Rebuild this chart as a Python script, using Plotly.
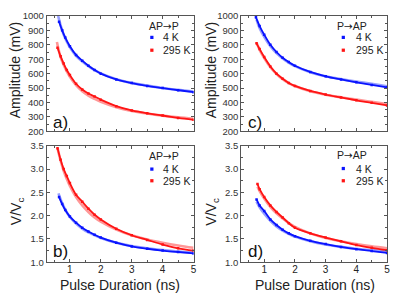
import plotly.graph_objects as go

# ---------------- data ----------------
# panel a) Amplitude, AP->P
a_blue_x = [0.65, 0.75, 0.85, 1.0, 1.2, 1.4, 1.6, 1.8, 2.0, 2.5, 3.0, 3.5, 4.0, 4.5, 5.0]
a_blue_y = [960, 900, 850, 790, 730, 690, 655, 625, 600, 560, 535, 515, 500, 485, 472]
a_blue_fit_x = [0.62, 0.7, 0.8, 0.9, 1.0, 1.2, 1.4, 1.6, 1.8, 2.0, 2.5, 3.0, 3.5, 4.0, 4.5, 5.0]
a_blue_fit_y = [1000, 935, 870, 822, 782, 724, 684, 652, 624, 602, 562, 536, 517, 501, 488, 476]
a_red_x = [0.6, 0.7, 0.8, 0.9, 1.0, 1.2, 1.4, 1.6, 1.8, 2.0, 2.5, 3.0, 3.5, 4.0, 4.5, 5.0]
a_red_y = [780, 720, 670, 625, 590, 530, 490, 462, 442, 420, 375, 345, 325, 310, 293, 280]
a_red_fit_x = [0.58, 0.7, 0.8, 0.9, 1.0, 1.2, 1.4, 1.6, 1.8, 2.0, 2.5, 3.0, 3.5, 4.0, 4.5, 5.0]
a_red_fit_y = [820, 715, 660, 615, 578, 520, 478, 448, 425, 405, 368, 342, 324, 309, 297, 288]

# panel c) Amplitude, P->AP
c_blue_x = [0.73, 0.85, 1.0, 1.2, 1.4, 1.6, 1.8, 2.0, 2.5, 3.0, 3.5, 4.0, 4.5, 5.0]
c_blue_y = [990, 930, 870, 800, 750, 710, 680, 655, 612, 582, 560, 540, 522, 505]
c_blue_fit_x = [0.75, 0.85, 1.0, 1.2, 1.4, 1.6, 1.8, 2.0, 2.5, 3.0, 3.5, 4.0, 4.5, 5.0]
c_blue_fit_y = [975, 915, 855, 790, 742, 705, 676, 652, 610, 582, 562, 545, 530, 512]
c_red_x = [0.75, 0.85, 1.0, 1.2, 1.4, 1.6, 1.8, 2.0, 2.5, 3.0, 3.5, 4.0, 4.5, 5.0]
c_red_y = [810, 770, 715, 650, 600, 565, 535, 515, 480, 455, 435, 415, 398, 380]
c_red_fit_x = [0.75, 0.85, 1.0, 1.2, 1.4, 1.6, 1.8, 2.0, 2.5, 3.0, 3.5, 4.0, 4.5, 5.0]
c_red_fit_y = [815, 765, 708, 645, 598, 562, 535, 514, 478, 454, 436, 420, 405, 390]

# panel b) V/Vc, AP->P
b_blue_x = [0.65, 0.75, 0.85, 1.0, 1.2, 1.4, 1.6, 1.8, 2.0, 2.5, 3.0, 3.5, 4.0, 4.5, 5.0]
b_blue_y = [2.40, 2.25, 2.12, 1.98, 1.85, 1.74, 1.66, 1.59, 1.53, 1.42, 1.34, 1.29, 1.25, 1.22, 1.19]
b_blue_fit_x = [0.63, 0.75, 0.85, 1.0, 1.2, 1.4, 1.6, 1.8, 2.0, 2.5, 3.0, 3.5, 4.0, 4.5, 5.0]
b_blue_fit_y = [2.48, 2.27, 2.13, 1.97, 1.83, 1.72, 1.64, 1.58, 1.52, 1.42, 1.35, 1.30, 1.26, 1.23, 1.21]
b_red_x = [0.6, 0.7, 0.8, 0.9, 1.0, 1.2, 1.4, 1.6, 1.8, 2.0, 2.5, 3.0, 3.5, 4.0, 4.5, 5.0]
b_red_y = [3.45, 3.20, 3.00, 2.85, 2.70, 2.45, 2.30, 2.15, 2.02, 1.92, 1.72, 1.58, 1.48, 1.38, 1.30, 1.25]
b_red_fit_x = [0.6, 0.7, 0.8, 0.9, 1.0, 1.2, 1.4, 1.6, 1.8, 2.0, 2.5, 3.0, 3.5, 4.0, 4.5, 5.0]
b_red_fit_y = [3.45, 3.18, 2.96, 2.79, 2.64, 2.40, 2.22, 2.08, 1.96, 1.87, 1.70, 1.58, 1.49, 1.42, 1.36, 1.31]

# panel d) V/Vc, P->AP
d_blue_x = [0.75, 0.85, 1.0, 1.2, 1.4, 1.6, 1.8, 2.0, 2.5, 3.0, 3.5, 4.0, 4.5, 5.0]
d_blue_y = [2.35, 2.22, 2.10, 1.92, 1.80, 1.70, 1.62, 1.56, 1.46, 1.39, 1.33, 1.28, 1.24, 1.20]
d_blue_fit_x = [0.75, 0.85, 1.0, 1.2, 1.4, 1.6, 1.8, 2.0, 2.5, 3.0, 3.5, 4.0, 4.5, 5.0]
d_blue_fit_y = [2.30, 2.18, 2.04, 1.89, 1.77, 1.68, 1.61, 1.55, 1.45, 1.38, 1.33, 1.29, 1.26, 1.23]
d_red_x = [0.78, 0.85, 1.0, 1.2, 1.4, 1.6, 1.8, 2.0, 2.5, 3.0, 3.5, 4.0, 4.5, 5.0]
d_red_y = [2.68, 2.57, 2.40, 2.22, 2.08, 1.96, 1.84, 1.74, 1.62, 1.53, 1.45, 1.37, 1.31, 1.26]
d_red_fit_x = [0.78, 0.85, 1.0, 1.2, 1.4, 1.6, 1.8, 2.0, 2.5, 3.0, 3.5, 4.0, 4.5, 5.0]
d_red_fit_y = [2.62, 2.53, 2.37, 2.19, 2.05, 1.94, 1.84, 1.76, 1.62, 1.52, 1.45, 1.39, 1.34, 1.30]

x_ticks = [1, 2, 3, 4, 5]
x_tick_text = ["1", "2", "3", "4", "5"]
amp_ticks = [200, 300, 400, 500, 600, 700, 800, 900, 1000]
v_ticks = [1.0, 1.5, 2.0, 2.5, 3.0, 3.5]
v_tick_text = ["1.0", "1.5", "2.0", "2.5", "3.0", "3.5"]
ARROW = "<span style='font-family:DejaVu Sans'>→</span>"
legend_titles = {"a": "AP" + ARROW + "P", "b": "AP" + ARROW + "P", "c": "P" + ARROW + "AP", "d": "P" + ARROW + "AP"}
series_names = ["4 K", "295 K"]

# ---------------- styling ----------------
OX, OY = 8, 8            # page offset of the figure inside the window
FW, FH = 399 - OX, 299 - OY
BLUE = "rgb(10,20,255)"
RED = "rgb(255,20,20)"
BLUE_FIT = "rgba(140,150,255,0.9)"
RED_FIT = "rgba(255,140,140,0.9)"
FONT = "Liberation Sans, Arial, sans-serif"
AX = "#555555"

def fx(px):
    return (px - OX) / FW

def fy(py):
    return 1 - (py - OY) / FH

panels = {
    "a": dict(xa="x", ya="y", xd=[fx(47), fx(195)], yd=[fy(130), fy(10)]),
    "b": dict(xa="x2", ya="y2", xd=[fx(47), fx(195)], yd=[fy(266), fy(145)]),
    "c": dict(xa="x3", ya="y3", xd=[fx(243), fx(390)], yd=[fy(130), fy(10)]),
    "d": dict(xa="x4", ya="y4", xd=[fx(243), fx(390)], yd=[fy(266), fy(145)]),
}

data = {
    "a": [(a_blue_fit_x, a_blue_fit_y, a_blue_x, a_blue_y), (a_red_fit_x, a_red_fit_y, a_red_x, a_red_y)],
    "b": [(b_blue_fit_x, b_blue_fit_y, b_blue_x, b_blue_y), (b_red_fit_x, b_red_fit_y, b_red_x, b_red_y)],
    "c": [(c_blue_fit_x, c_blue_fit_y, c_blue_x, c_blue_y), (c_red_fit_x, c_red_fit_y, c_red_x, c_red_y)],
    "d": [(d_blue_fit_x, d_blue_fit_y, d_blue_x, d_blue_y), (d_red_fit_x, d_red_fit_y, d_red_x, d_red_y)],
}

fig = go.Figure()
colors = [(BLUE_FIT, BLUE), (RED_FIT, RED)]
for key, p in panels.items():
    for (fxv, fyv, dx, dy), (cf, cd) in zip(data[key], colors):
        fig.add_trace(go.Scatter(x=fxv, y=fyv, mode="lines", line=dict(color=cf, width=2.6, shape="spline"),
                                 xaxis=p["xa"], yaxis=p["ya"], showlegend=False, hoverinfo="skip"))
        fig.add_trace(go.Scatter(x=dx, y=dy, mode="lines+markers", line=dict(color=cd, width=1.8, shape="spline"),
                                 marker=dict(color=cd, size=2.5, symbol="square"),
                                 xaxis=p["xa"], yaxis=p["ya"], showlegend=False))

layout = dict(width=FW, height=FH, margin=dict(l=0, r=0, t=0, b=0, pad=0),
              paper_bgcolor="white", plot_bgcolor="white", showlegend=False,
              font=dict(family=FONT, size=9, color="#222"))

for key, p in panels.items():
    xn = "xaxis" + p["xa"][1:]
    yn = "yaxis" + p["ya"][1:]
    bottom = key in ("b", "d")
    layout[xn] = dict(domain=p["xd"], anchor=p["ya"], range=[0.25, 5.0], tickmode="array",
                      tickvals=x_ticks, ticktext=x_tick_text,
                      showticklabels=bottom, ticks="inside", ticklen=3, tickcolor=AX,
                      ticklabeloverflow="allow", ticklabelstandoff=-2,
                      minor=dict(dtick=0.5, tick0=0, ticks="inside", ticklen=2, tickcolor=AX),
                      showline=True, linecolor=AX, linewidth=1, mirror="ticks", showgrid=False, zeroline=False,
                      tickfont=dict(size=10, color="#222"))
    if bottom:
        layout[yn] = dict(domain=p["yd"], anchor=p["xa"], range=[1.0, 3.5], tickvals=v_ticks, ticktext=v_tick_text,
                          minor=dict(dtick=0.25, tick0=0, ticks="inside", ticklen=2, tickcolor=AX))
    else:
        layout[yn] = dict(domain=p["yd"], anchor=p["xa"], range=[200, 1000], tickvals=amp_ticks,
                          minor=dict(dtick=50, tick0=0, ticks="inside", ticklen=2, tickcolor=AX))
    layout[yn].update(ticks="inside", ticklen=3, tickcolor=AX, showline=True, linecolor=AX, linewidth=1,
                      ticklabeloverflow="allow",
                      mirror="ticks", showgrid=False, zeroline=False, tickfont=dict(size=9.5, color="#333"))
fig.update_layout(**layout)

ann = []
shapes = []
# axis titles
for cx in (14.5, 212):
    ann.append(dict(x=fx(cx), y=fy(66), xref="paper", yref="paper", text="Amplitude (mV)", textangle=-90,
                    showarrow=False, font=dict(size=14, color="#222"), xanchor="center", yanchor="middle"))
for cx in (17, 214):
    ann.append(dict(x=fx(cx), y=fy(213), xref="paper", yref="paper", text="V/V<sub>c</sub>", textangle=-90,
                    showarrow=False, font=dict(size=14, color="#222"), xanchor="center", yanchor="middle"))
for cx in (121, 317):
    ann.append(dict(x=fx(cx), y=fy(290), xref="paper", yref="paper", text="Pulse Duration (ns)",
                    showarrow=False, font=dict(size=14, color="#222"), xanchor="center", yanchor="middle"))

# panel letters and legends (positions in panel-domain units)
leg_pos = {
    "a": dict(tx=0.682, ty=0.917, mx=0.716, lx=0.78, rows=[0.814, 0.703]),
    "b": dict(tx=0.682, ty=0.909, mx=0.716, lx=0.78, rows=[0.80, 0.70]),
    "c": dict(tx=0.646, ty=0.917, mx=0.70, lx=0.77, rows=[0.814, 0.703]),
    "d": dict(tx=0.646, ty=0.918, mx=0.70, lx=0.77, rows=[0.805, 0.70]),
}
letter_y = {"a": 0.075, "b": 0.09, "c": 0.075, "d": 0.09}
for key, p in panels.items():
    xr = p["xa"] + " domain"
    yr = p["ya"] + " domain"
    ann.append(dict(x=0.03, y=letter_y[key], xref=xr, yref=yr, text=key + ")", showarrow=False,
                    font=dict(size=17, color="#111"), xanchor="left", yanchor="middle"))
    lp = leg_pos[key]
    ann.append(dict(x=lp["tx"], y=lp["ty"], xref=xr, yref=yr, text=legend_titles[key], showarrow=False,
                    font=dict(size=10.5, color="#222"), xanchor="left", yanchor="middle"))
    for name, ry, col in zip(series_names, lp["rows"], (BLUE, RED)):
        ann.append(dict(x=lp["lx"], y=ry, xref=xr, yref=yr, text=name, showarrow=False,
                        font=dict(size=10.5, color="#222"), xanchor="left", yanchor="middle"))
        shapes.append(dict(type="rect", xref=xr, yref=yr, x0=lp["mx"] - 0.011, x1=lp["mx"] + 0.011,
                           y0=ry - 0.014, y1=ry + 0.014, fillcolor=col, line=dict(width=0)))

fig.update_layout(annotations=ann, shapes=shapes)
fig.write_html("out.html")
